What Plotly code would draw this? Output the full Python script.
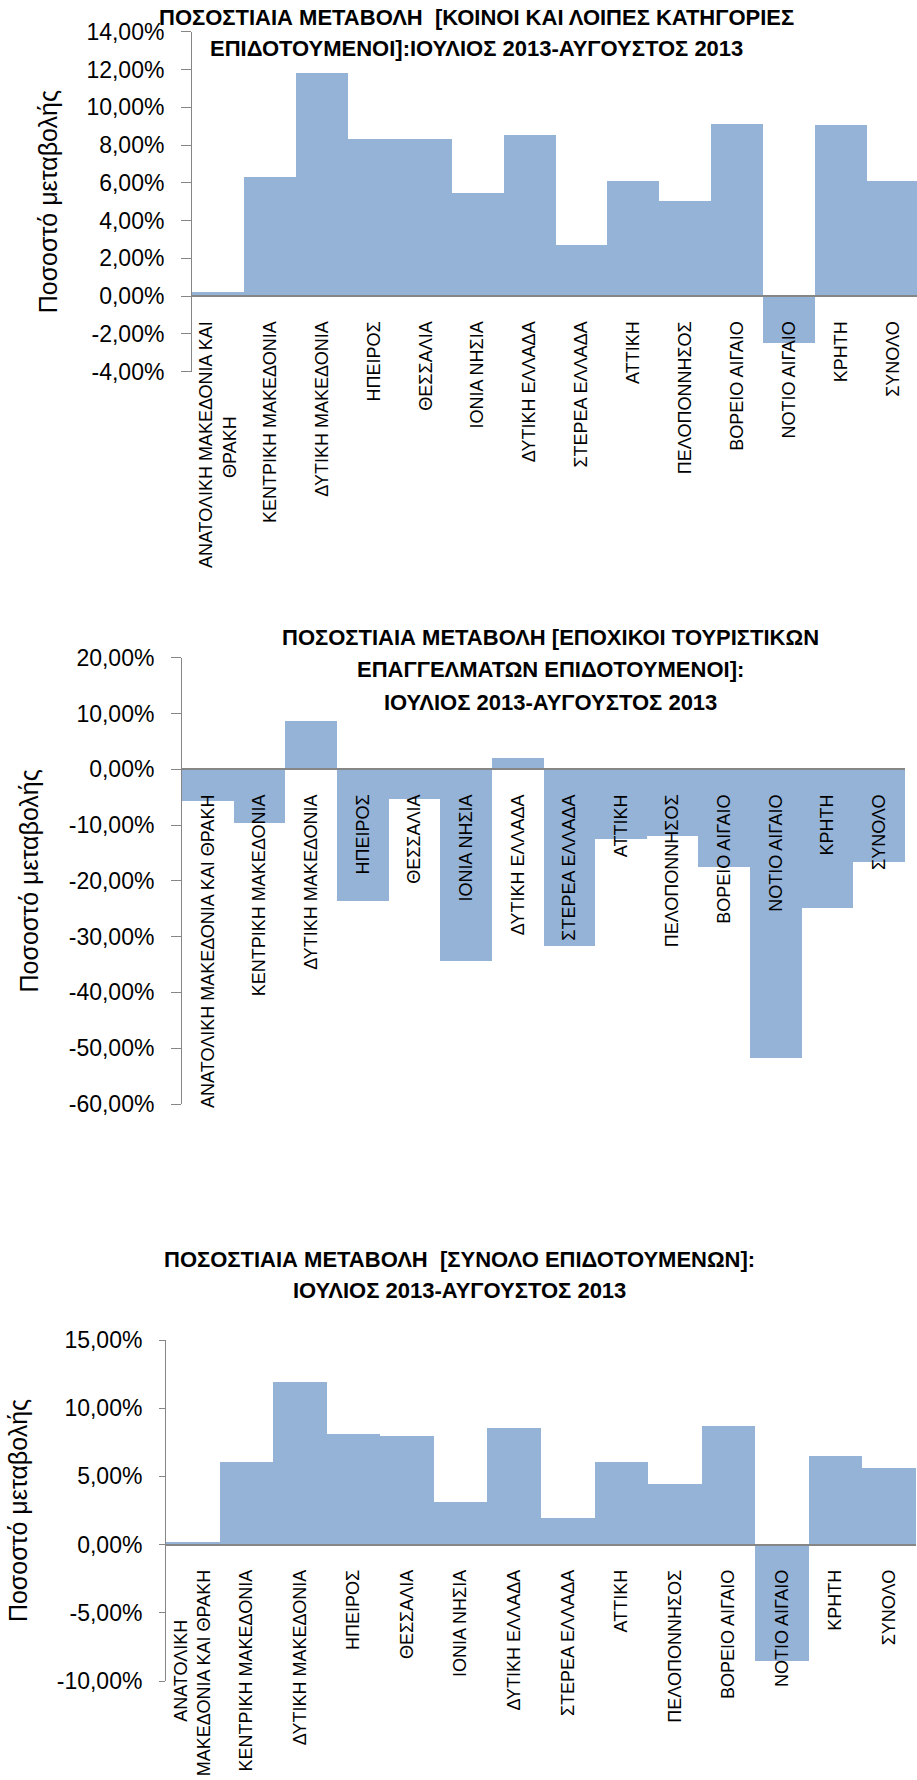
import plotly.graph_objects as go

# Regions (same order in all three charts)
regions = [
    "ΑΝΑΤΟΛΙΚΗ ΜΑΚΕΔΟΝΙΑ ΚΑΙ ΘΡΑΚΗ", "ΚΕΝΤΡΙΚΗ ΜΑΚΕΔΟΝΙΑ", "ΔΥΤΙΚΗ ΜΑΚΕΔΟΝΙΑ", "ΗΠΕΙΡΟΣ",
    "ΘΕΣΣΑΛΙΑ", "ΙΟΝΙΑ ΝΗΣΙΑ", "ΔΥΤΙΚΗ ΕΛΛΑΔΑ", "ΣΤΕΡΕΑ ΕΛΛΑΔΑ", "ΑΤΤΙΚΗ", "ΠΕΛΟΠΟΝΝΗΣΟΣ",
    "ΒΟΡΕΙΟ ΑΙΓΑΙΟ", "ΝΟΤΙΟ ΑΙΓΑΙΟ", "ΚΡΗΤΗ", "ΣΥΝΟΛΟ",
]

# Tick labels (first label wraps differently in each chart)
NB = "\u00a0"
labels_common = ["ΑΝΑΤΟΛΙΚΗ ΜΑΚΕΔΟΝΙΑ ΚΑΙ<br>ΘΡΑΚΗ" + NB * 19] + regions[1:]
labels_seasonal = list(regions)
labels_total = ["ΑΝΑΤΟΛΙΚΗ" + NB * 10 + "<br>ΜΑΚΕΔΟΝΙΑ ΚΑΙ ΘΡΑΚΗ"] + regions[1:]

# Percentage change, July 2013 - August 2013
change_common = [0.0025, 0.0634, 0.1181, 0.0835, 0.0834, 0.0549, 0.0854,
                 0.0275, 0.0611, 0.0505, 0.0915, -0.0248, 0.0907, 0.0611]
change_seasonal = [-0.0562, -0.0962, 0.0866, -0.2354, -0.0526, -0.3423, 0.0203,
                   -0.3166, -0.1243, -0.1195, -0.1738, -0.5173, -0.2479, -0.1649]
change_total = [0.0020, 0.0606, 0.1190, 0.0809, 0.0795, 0.0313, 0.0853,
                0.0195, 0.0606, 0.0445, 0.0867, -0.0850, 0.0647, 0.0562]

# y tick values of each chart
yticks_common = [-0.04, -0.02, 0.0, 0.02, 0.04, 0.06, 0.08, 0.10, 0.12, 0.14]
yticks_seasonal = [-0.6, -0.5, -0.4, -0.3, -0.2, -0.1, 0.0, 0.1, 0.2]
yticks_total = [-0.10, -0.05, 0.0, 0.05, 0.10, 0.15]

title_common = ["ΠΟΣΟΣΤΙΑΙΑ ΜΕΤΑΒΟΛΗ " + NB + "[ΚΟΙΝΟΙ ΚΑΙ ΛΟΙΠΕΣ ΚΑΤΗΓΟΡΙΕΣ",
                "ΕΠΙΔΟΤΟΥΜΕΝΟΙ]:ΙΟΥΛΙΟΣ 2013-ΑΥΓΟΥΣΤΟΣ 2013"]
title_seasonal = ["ΠΟΣΟΣΤΙΑΙΑ ΜΕΤΑΒΟΛΗ [ΕΠΟΧΙΚΟΙ ΤΟΥΡΙΣΤΙΚΩΝ",
                  "ΕΠΑΓΓΕΛΜΑΤΩΝ ΕΠΙΔΟΤΟΥΜΕΝΟΙ]:",
                  "ΙΟΥΛΙΟΣ 2013-ΑΥΓΟΥΣΤΟΣ 2013"]
title_total = ["ΠΟΣΟΣΤΙΑΙΑ ΜΕΤΑΒΟΛΗ " + NB + "[ΣΥΝΟΛΟ ΕΠΙΔΟΤΟΥΜΕΝΩΝ]:",
               "ΙΟΥΛΙΟΣ 2013-ΑΥΓΟΥΣΤΟΣ 2013"]

W, H = 917, 1780
BAR = "#95B3D7"
AXIS = "#868686"
FONT = "Liberation Sans, Arial, sans-serif"


def fx(x):
    return x / W


def fy(y):
    return 1 - y / H


def pct(v):
    # Greek style: comma decimal, plain hyphen for negatives
    return f"{v * 100:.2f}%".replace(".", ",")


charts = [
    dict(values=change_common, labels=labels_common, title=title_common, yticks=yticks_common,
         yrange=[-0.04, 0.14], left=192, right=917, top=31.7, bottom=371.7,
         xrange=[-0.5, 13.46], ticklen=10, title_x=476, title_y=[17, 49], standoff=21),
    dict(values=change_seasonal, labels=labels_seasonal, title=title_seasonal, yticks=yticks_seasonal,
         yrange=[-0.6, 0.2], dtick=0.1, left=182, right=905, top=657.7, bottom=1104,
         xrange=[-0.5, 13.5], ticklen=10, title_x=550, title_y=[637, 670, 702], standoff=22),
    dict(values=change_total, labels=labels_total, title=title_total, yticks=yticks_total,
         yrange=[-0.1, 0.15], left=166, right=916, top=1340, bottom=1681,
         xrange=[-0.5, 13.5], ticklen=6, title_x=459, title_y=[1259, 1290], standoff=21),
]

fig = go.Figure()
annotations = []
for i, c in enumerate(charts, start=1):
    xa = "x" if i == 1 else f"x{i}"
    ya = "y" if i == 1 else f"y{i}"
    fig.add_trace(go.Bar(x=regions, y=c["values"], xaxis=xa, yaxis=ya,
                         marker=dict(color=BAR, line=dict(width=0)), showlegend=False))

    ydom = [fy(c["bottom"]), fy(c["top"])]
    r0, r1 = c["yrange"]
    zero_pos = ydom[0] + (0 - r0) / (r1 - r0) * (ydom[1] - ydom[0])

    fig.update_layout({
        f"xaxis{'' if i == 1 else i}": dict(
            domain=[fx(c["left"]), fx(c["right"])], anchor="free", position=zero_pos,
            range=c["xrange"], type="category", tickvals=regions, ticktext=c["labels"],
            tickangle=-90, ticks="", ticklabelstandoff=17, automargin=False,
            showline=True, linecolor=AXIS, linewidth=2, showgrid=False, zeroline=False,
            tickfont=dict(family=FONT, size=18, color="black"),
        ),
        f"yaxis{'' if i == 1 else i}": dict(
            domain=ydom, anchor=xa, range=c["yrange"], automargin=False,
            tickvals=c["yticks"], ticktext=[pct(v) for v in c["yticks"]],
            ticks="outside", ticklen=c["ticklen"], tickcolor=AXIS,
            ticklabelstandoff=12, showline=True, linecolor=AXIS, linewidth=1,
            showgrid=False, zeroline=False,
            tickfont=dict(family=FONT, size=23, color="black"),
            title=dict(text="Ποσοστό μεταβολής", standoff=c["standoff"],
                       font=dict(family=FONT, size=25, color="black")),
        ),
    })

    for line, ty in zip(c["title"], c["title_y"]):
        annotations.append(dict(text="<b>" + line + "</b>", x=fx(c["title_x"]), y=fy(ty),
                                xref="paper", yref="paper", xanchor="center", yanchor="middle",
                                showarrow=False, font=dict(family=FONT, size=22, color="black")))

fig.update_layout(
    width=W, height=H, autosize=False,
    margin=dict(l=0, r=0, t=0, b=0, pad=0),
    paper_bgcolor="white", plot_bgcolor="white",
    bargap=0,
    annotations=annotations,
)

# the page body has a default 8px margin; drop it so the figure fills the window
fig.write_html("out.html", config={"displayModeBar": False},
               post_script="document.body.style.margin='0';")
